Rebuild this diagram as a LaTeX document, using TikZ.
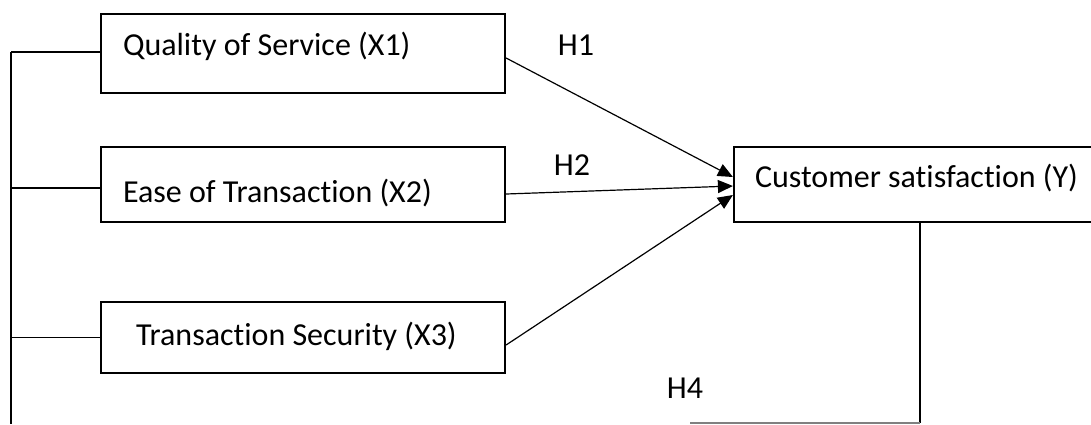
\documentclass[tikz,border=0pt]{standalone}
\usepackage{fontspec}
\setmainfont{Carlito}[Ligatures=NoCommon]
\usepackage{tikz}
\usetikzlibrary{arrows.meta, positioning}

\begin{document}
\begin{tikzpicture}[x=1pt, y=-1pt, >={Triangle[length=15pt, width=13pt]}]
		\useasboundingbox (0,0) rectangle (1091,424);
		\clip (0,0) rectangle (1091,424);
		
		% Define styles
		\tikzstyle{construct} = [rectangle, draw, line width=2.2pt, align=flush left, inner ysep=0pt, font=\fontsize{32}{38}\selectfont]
		\tikzstyle{relation} = [line width=1.2pt]
		\tikzstyle{hyp} = [anchor=base, font=\fontsize{32}{38}\selectfont]
		
		% Nodes
		\node[construct, minimum width=404pt, minimum height=79pt, text width=360pt, inner xsep=22pt, text height=23pt, text depth=20pt] (x1) at (303,53.5) {Quality of Service (X1)};
		\node[construct, minimum width=404pt, minimum height=75pt, text width=360pt, inner xsep=22pt, text height=36pt, text depth=1pt] (x2) at (303,184.5) {Ease of Transaction (X2)};
		\node[construct, minimum width=404pt, minimum height=71pt, text width=334pt, inner xsep=35pt, text height=24pt, text depth=9pt] (x3) at (303,337.5) {Transaction Security (X3)};
		\node[construct, minimum height=75pt, text width=330pt, inner xsep=21pt, text height=24pt, text depth=19pt] (yout) at (920,184.5) {Customer satisfaction (Y)};
		
		% Rail and loop ends
		\coordinate (rail top) at (11,52);
		\coordinate (rail end) at (11,424);
		\coordinate (loop end) at (920,423);
		\coordinate (h4 end) at (690,423);
		
		% Arrows
		\draw[relation, ->] ([yshift=-4.5pt]x1.east) -- ([yshift=7.5pt]yout.west);
		\draw[relation, ->] ([yshift=-9.5pt]x2.east) -- ([yshift=-1.5pt]yout.west);
		\draw[relation, ->] ([yshift=-7.5pt]x3.east) -- ([yshift=-10.5pt]yout.west);
		
		% Left rail
		\draw[relation] (rail top) -- (rail end);
		\draw[relation] ([yshift=1.5pt]x1.west) -- (rail top);
		\draw[relation] ([yshift=-3.5pt]x2.west) -- ([yshift=-3.5pt]x2.west -| rail top);
		\draw[relation] (x3.west) -- (x3.west -| rail top);
		
		% Return line
		\draw[relation] (yout.south) -- (loop end);
		\draw[relation, gray] (loop end) -- (h4 end);
		
		% Labels
		\node[hyp] (h1) at (576,55) {H1};
		\node[hyp] (h2) at (572,175) {H2};
		\node[hyp] (h4) at (685,398) {H4};
		
	\end{tikzpicture}
\end{document}
